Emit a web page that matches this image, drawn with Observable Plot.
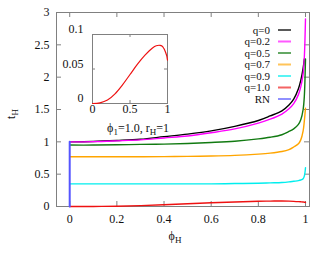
<!DOCTYPE html>
<html><head><meta charset="utf-8">
<script src="https://cdn.jsdelivr.net/npm/d3@7"></script>
<script src="https://cdn.jsdelivr.net/npm/@observablehq/plot@0.6"></script>
<style>
body{margin:0;background:#fff;}
#wrap{position:relative;width:330px;height:254px;font-family:"Liberation Serif",serif;}
#inset{position:absolute;left:60px;top:24px;}
svg{overflow:visible;}
</style></head><body><div id="wrap"><div id="main"></div><div id="inset"></div></div>
<script>
// ---- data ----
const phi = [0, 0.1, 0.2, 0.3, 0.4, 0.5, 0.6, 0.7, 0.8, 0.85, 0.9, 0.93, 0.95, 0.97, 0.98, 0.99, 0.995, 1.0];
const q0  = [1.0, 1.005, 1.02, 1.04, 1.08, 1.12, 1.17, 1.24, 1.33, 1.40, 1.48, 1.57, 1.66, 1.82, 1.95, 2.14, 2.28, null];
const q02 = [1.0, 1.003, 1.015, 1.03, 1.06, 1.09, 1.14, 1.20, 1.29, 1.35, 1.43, 1.51, 1.59, 1.73, 1.85, 2.05, 2.30, 2.90];
const q05 = [0.95, 0.95, 0.955, 0.96, 0.965, 0.975, 0.99, 1.01, 1.045, 1.07, 1.11, 1.16, 1.20, 1.27, 1.34, 1.50, 1.70, 2.28];
const q07 = [0.77, 0.77, 0.77, 0.77, 0.772, 0.775, 0.78, 0.79, 0.81, 0.825, 0.85, 0.88, 0.92, 0.97, 1.03, 1.17, 1.32, 1.52];
const q09 = [0.35, 0.35, 0.35, 0.35, 0.35, 0.35, 0.35, 0.355, 0.36, 0.365, 0.37, 0.38, 0.39, 0.40, 0.41, 0.43, 0.47, 0.60];
const q10 = [0, 0.001, 0.005, 0.014, 0.027, 0.042, 0.057, 0.070, 0.0805, 0.0837, 0.0843, 0.083, 0.080, 0.0755, 0.0725, 0.069, 0.066, 0.063];
const rnPhi = [0, 0];
const rnT = [0, 1];
const seriesNames = ["q=0", "q=0.2", "q=0.5", "q=0.7", "q=0.9", "q=1.0"];
const seriesValues = [q0, q02, q05, q07, q09, q10];
const seriesColors = ["#000000", "#ff00ff", "#117a11", "#ffa500", "#00eeee", "#ee1111"];
const rnName = "RN", rnColor = "#5555ff";
const xTicks = [0, 0.2, 0.4, 0.6, 0.8, 1];
const xTickLabels = ["0", "0.2", "0.4", "0.6", "0.8", "1"];
const yTicks = [0, 0.5, 1, 1.5, 2, 2.5, 3];
const yTickLabels = ["0", "0.5", "1", "1.5", "2", "2.5", "3"];
const insetXTicks = [0, 0.5, 1];
const insetXLabels = ["0", "0.5", "1"];
const insetYTicks = [0, 0.05, 0.1];
const insetYLabels = ["0", "0.05", "0.1"];

// ---- layout ----
const W = 330, H = 254, mL = 56, mR = 21, mT = 12, mB = 48;
const xDom = [-0.056, 1.017], yDom = [0, 3];
const font = "Liberation Serif, Times New Roman, serif";
const frameColor = "#808080";
const tkY = 5 * (yDom[1] - yDom[0]) / (H - mT - mB);
const tkX = 5 * (xDom[1] - xDom[0]) / (W - mL - mR);

const rows = seriesNames.flatMap((name, s) =>
  phi.map((p, i) => ({phi: p, t: seriesValues[s][i], name})).filter(d => d.t != null));
const rnRows = rnPhi.map((p, i) => ({phi: p, t: rnT[i]}));

const lineMarks = seriesNames.map((name, s) =>
  Plot.line(rows.filter(d => d.name === name), {x: "phi", y: "t", stroke: seriesColors[s], strokeWidth: 1.4, curve: "catmull-rom"}));

const main = Plot.plot({
  width: W, height: H, marginLeft: mL, marginRight: mR, marginTop: mT, marginBottom: mB,
  x: {domain: xDom, axis: null},
  y: {domain: yDom, axis: null},
  style: {fontFamily: font, fontSize: "12px", background: "transparent"},
  marks: [
    Plot.ruleX(xTicks, {x: d => d, y1: yDom[0], y2: yDom[0] + tkY, stroke: frameColor}),
    Plot.ruleX(xTicks, {x: d => d, y1: yDom[1] - tkY, y2: yDom[1], stroke: frameColor}),
    Plot.ruleY(yTicks, {y: d => d, x1: xDom[0], x2: xDom[0] + tkX, stroke: frameColor}),
    Plot.ruleY(yTicks, {y: d => d, x1: xDom[1] - tkX, x2: xDom[1], stroke: frameColor}),
    Plot.frame({stroke: frameColor}),
    Plot.text(xTicks, {x: d => d, y: yDom[0], dy: 13, text: (d, i) => xTickLabels[i], fontSize: 12, fill: "#111"}),
    Plot.text(yTicks, {x: xDom[0], y: d => d, dx: -7, textAnchor: "end", text: (d, i) => yTickLabels[i], fontSize: 12, fill: "#111"}),
    ...lineMarks,
    Plot.line(rnRows, {x: "phi", y: "t", stroke: rnColor, strokeWidth: 2})
  ]
});
document.getElementById("main").appendChild(main);

// legend, labels with subscripts
const svg = d3.select(main);
const legNames = [...seriesNames, rnName];
const legColors = [...seriesColors, rnColor];
legNames.forEach((n, i) => {
  const y = 30 + i * 11.5;
  svg.append("text").attr("x", 270).attr("y", y).attr("dy", "0.35em").attr("text-anchor", "end")
    .attr("font-family", font).attr("font-size", 11).attr("fill", "#111").text(n);
  svg.append("line").attr("x1", 278).attr("x2", 291).attr("y1", y).attr("y2", y)
    .attr("stroke", legColors[i]).attr("stroke-width", 2).attr("stroke-opacity", 0.65);
});
function subText(g, parts) {
  parts.forEach(([s, sub]) => {
    const t = g.append("tspan").text(s);
    if (sub) t.attr("font-size", 9).attr("baseline-shift", "-28%");
  });
}
const ann = svg.append("text").attr("x", 138).attr("y", 132).attr("font-family", font).attr("font-size", 12).attr("fill", "#111");
subText(ann, [["\u03d5"], ["1", true], ["=1.0, r"], ["H", true], ["=1"]]);
const xl = svg.append("text").attr("x", 175).attr("y", 240).attr("font-family", font).attr("font-size", 12).attr("fill", "#111");
subText(xl, [["\u03d5"], ["H", true]]);
const yl = svg.append("text").attr("transform", "translate(15,114) rotate(-90)").attr("font-family", font).attr("font-size", 12).attr("fill", "#111");
subText(yl, [["t"], ["H", true]]);

// ---- inset ----
const iW = 115, iH = 95, iL = 32, iR = 8, iT = 10, iB = 16;
const iX = [0, 1], iY = [0, 0.1];
const itkY = 3 * (iY[1] - iY[0]) / (iH - iT - iB);
const itkX = 3 * (iX[1] - iX[0]) / (iW - iL - iR);
const redRows = rows.filter(d => d.name === "q=1.0");
const inset = Plot.plot({
  width: iW, height: iH, marginLeft: iL, marginRight: iR, marginTop: iT, marginBottom: iB,
  x: {domain: iX, axis: null},
  y: {domain: iY, axis: null},
  style: {fontFamily: font, fontSize: "12px", background: "transparent"},
  marks: [
    Plot.ruleX(insetXTicks, {x: d => d, y1: 0, y2: itkY, stroke: frameColor}),
    Plot.ruleX(insetXTicks, {x: d => d, y1: iY[1] - itkY, y2: iY[1], stroke: frameColor}),
    Plot.ruleY(insetYTicks, {y: d => d, x1: 0, x2: itkX, stroke: frameColor}),
    Plot.ruleY(insetYTicks, {y: d => d, x1: 1 - itkX, x2: 1, stroke: frameColor}),
    Plot.frame({stroke: frameColor}),
    Plot.text(insetXTicks, {x: d => d, y: 0, dy: 6, text: (d, i) => insetXLabels[i], fontSize: 12, fill: "#111"}),
    Plot.text(insetYTicks, {x: 0, y: d => d, dx: -9, dy: -5, textAnchor: "end", text: (d, i) => insetYLabels[i], fontSize: 12, fill: "#111"}),
    Plot.line(redRows, {x: "phi", y: "t", stroke: seriesColors[5], strokeWidth: 1.2, curve: "catmull-rom"})
  ]
});
document.getElementById("inset").appendChild(inset);
</script></body></html>
